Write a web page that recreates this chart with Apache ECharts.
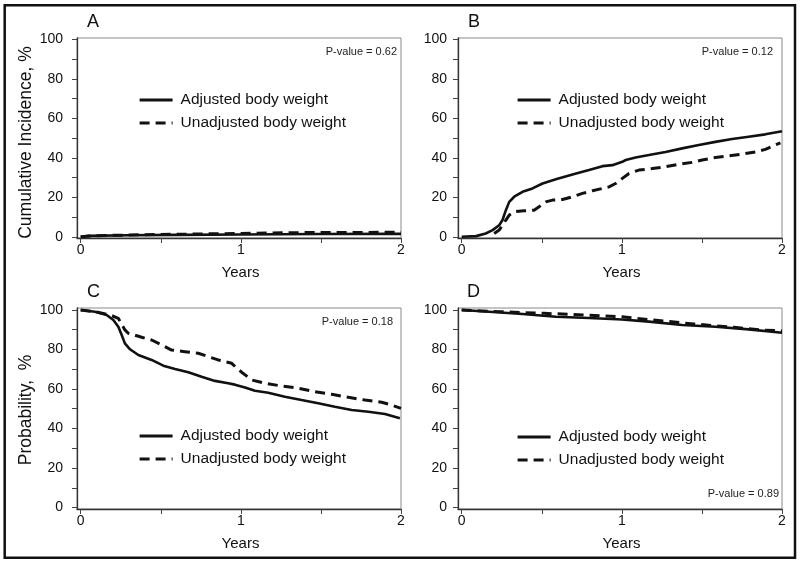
<!DOCTYPE html>
<html>
<head>
<meta charset="utf-8">
<style>
html,body{margin:0;padding:0;background:#fff;}
#chart{width:800px;height:564px;}
</style>
<script src="https://cdn.jsdelivr.net/npm/echarts@6/dist/echarts.min.js"></script>
</head>
<body>
<div id="chart"></div>
<script>
// ---- data ----
const seriesNames = ['Adjusted body weight', 'Unadjusted body weight'];
const panelLetters = ['A', 'B', 'C', 'D'];
const pValues = ['P-value = 0.62', 'P-value = 0.12', 'P-value = 0.18', 'P-value = 0.89'];
const yAxisNames = ['Cumulative Incidence, %', '', 'Probability,  %', ''];
const xAxisName = 'Years';
const xTickValues = [0, 0.5, 1, 1.5, 2];
const xLabelValues = [0, 1, 2];
const yTickValues = [0, 10, 20, 30, 40, 50, 60, 70, 80, 90, 100];
const yLabelValues = [0, 20, 40, 60, 80, 100];

// Panel A: cumulative incidence
const aAdjusted = [[0,0],[0.05,0.5],[0.3,0.8],[0.6,1.0],[1.0,1.2],[1.5,1.4],[2,1.5]];
const aUnadjusted = [[0,0],[0.1,0.6],[0.3,0.9],[0.5,1.2],[1.0,1.7],[1.3,2.1],[2,2.3]];

// Panel B: cumulative incidence
const bAdjusted = [[0,0],[0.09,0.35],[0.15,1.7],[0.193,3.4],[0.234,5.9],[0.255,8.5],[0.276,13.5],[0.297,17.7],[0.328,20.3],[0.38,22.8],[0.442,24.5],[0.505,27],[0.588,29.1],[0.692,31.6],[0.795,33.8],[0.879,35.8],[0.941,36.3],[1.003,38],[1.024,38.9],[1.086,40.2],[1.169,41.4],[1.273,43],[1.377,44.8],[1.481,46.5],[1.584,48.1],[1.688,49.5],[1.792,50.7],[1.896,51.9],[2.0,53.5]];
const bUnadjusted = [[0.203,1.7],[0.234,3.4],[0.276,8.5],[0.297,11],[0.328,12.7],[0.39,13.2],[0.452,13.5],[0.483,15.2],[0.525,17.7],[0.567,18.6],[0.629,18.9],[0.692,20.3],[0.754,22],[0.816,23.3],[0.879,24.5],[0.92,25.3],[0.961,27],[1.003,29.6],[1.045,32.1],[1.107,33.8],[1.19,34.6],[1.273,35.5],[1.356,36.7],[1.439,37.7],[1.502,38.9],[1.584,40.2],[1.667,41],[1.751,41.9],[1.834,43],[1.896,44.3],[1.958,46.5],[1.99,47.6]];

// Panel C: probability
const cAdjusted = [[0,100],[0.089,99.1],[0.162,97.5],[0.204,94.9],[0.235,91.5],[0.256,87.3],[0.276,83.1],[0.308,80.1],[0.36,77.2],[0.443,74.7],[0.516,71.8],[0.589,70.1],[0.672,68.5],[0.755,66.2],[0.838,64.1],[0.921,62.9],[0.963,62.2],[1.026,60.8],[1.088,59.1],[1.171,58.1],[1.275,56.1],[1.379,54.4],[1.483,52.8],[1.587,51],[1.692,49.4],[1.796,48.5],[1.9,47.3],[1.993,45.2]];
const cUnadjusted = [[0,100],[0.1,99],[0.183,97.5],[0.235,95.8],[0.276,89.9],[0.297,88.2],[0.381,86.2],[0.443,84.8],[0.506,82.3],[0.568,79.7],[0.651,78.9],[0.734,78.1],[0.797,76.4],[0.859,74.7],[0.943,73],[0.975,70.5],[1.005,68.5],[1.067,64.6],[1.15,62.9],[1.255,61.5],[1.359,60.4],[1.463,58.6],[1.567,57.3],[1.671,55.8],[1.775,54.4],[1.879,53.3],[1.941,51.9],[2.0,50.2]];

// Panel D: probability
const dAdjusted = [[0,100],[0.172,99.1],[0.38,98],[0.588,96.6],[0.795,95.9],[1.0,95.2],[1.169,94.1],[1.377,92.4],[1.584,91.5],[1.792,90.2],[2.0,88.5]];
const dUnadjusted = [[0,100],[0.245,99.1],[0.515,98.3],[0.764,97.5],[1.0,96.6],[1.16,95.2],[1.45,92.9],[1.7,91.2],[1.86,89.9],[2.0,89.4]];

const panelData = [[aAdjusted, aUnadjusted],[bAdjusted, bUnadjusted],[cAdjusted, cUnadjusted],[dAdjusted, dUnadjusted]];

// ---- layout / styles ----
const FONT = 'Liberation Sans, Arial, Helvetica, sans-serif';
const grids = [
  {left: 77, top: 38, width: 324, height: 200},
  {left: 458, top: 38, width: 324, height: 200},
  {left: 77, top: 308, width: 324, height: 201},
  {left: 458, top: 308, width: 324, height: 201}
];
const yRanges = [[-0.6, 100.7], [-0.6, 100.7], [-0.75, 101], [-0.75, 101]];
const labelMargins = [14, 11, 14, 11];
const yNamePads = [[0, 9, 0, 0], [0, 0, 0, 0], [0, 3, 0, 0], [0, 0, 0, 0]];
const letterPos = [{left: 87, top: 13}, {left: 468, top: 13}, {left: 87, top: 283}, {left: 467, top: 283}];
const pPos = [{right: 403, top: 46}, {right: 27, top: 46}, {right: 407, top: 316}, {right: 21, top: 488}];
const legendPos = [{left: 138, top: 92}, {left: 516, top: 92}, {left: 138, top: 428}, {left: 516, top: 429}];

const chart = echarts.init(document.getElementById('chart'), null, {renderer: 'canvas'});

const option = {
  backgroundColor: '#fff',
  animation: false,
  title: [],
  legend: [],
  grid: [],
  xAxis: [],
  yAxis: [],
  series: [],
  graphic: [{
    type: 'rect',
    shape: {x: 4.7, y: 5.3, width: 790.3, height: 552.4},
    style: {fill: 'none', stroke: '#111', lineWidth: 2.5},
    silent: true, z: 100
  }]
};

for (let i = 0; i < 4; i++) {
  option.grid.push(Object.assign({show: true, borderColor: '#8a8a8a', borderWidth: 1, backgroundColor: 'transparent'}, grids[i]));
  option.xAxis.push({
    type: 'value', gridIndex: i, min: -0.023, max: 2,
    name: xAxisName, nameLocation: 'middle', nameGap: 27,
    nameTextStyle: {fontFamily: FONT, fontSize: 15, color: '#111', padding: [0, 0, 0, 3]},
    axisLine: {show: true, onZero: false, lineStyle: {color: '#333', width: 1.3}},
    axisTick: {show: true, inside: false, length: 5, customValues: xTickValues, lineStyle: {color: '#444', width: 1}},
    axisLabel: {customValues: xLabelValues, margin: 5, fontFamily: FONT, fontSize: 14, color: '#111'},
    splitLine: {show: false}
  });
  option.yAxis.push({
    type: 'value', gridIndex: i, min: yRanges[i][0], max: yRanges[i][1],
    name: yAxisNames[i], nameLocation: 'middle', nameGap: 42, nameMoveOverlap: false,
    nameTextStyle: {fontFamily: FONT, fontSize: 17.5, color: '#111', padding: yNamePads[i]},
    axisLine: {show: true, onZero: false, lineStyle: {color: '#333', width: 1.3}},
    axisTick: {show: true, inside: false, length: 5, customValues: yTickValues, lineStyle: {color: '#444', width: 1}},
    axisLabel: {customValues: yLabelValues, margin: labelMargins[i], fontFamily: FONT, fontSize: 14, color: '#111'},
    splitLine: {show: false}
  });
  option.series.push({
    type: 'line', name: seriesNames[0], xAxisIndex: i, yAxisIndex: i,
    data: panelData[i][0], symbol: 'none', showSymbol: false,
    lineStyle: {color: '#111', width: 2.6, type: 'solid'}, itemStyle: {color: '#111'},
    z: 3
  });
  option.series.push({
    type: 'line', name: seriesNames[1], xAxisIndex: i, yAxisIndex: i,
    data: panelData[i][1], symbol: 'none', showSymbol: false,
    lineStyle: {color: '#111', width: 3, type: [10, 6]}, itemStyle: {color: '#111'},
    z: 2
  });
  option.title.push(Object.assign({
    text: panelLetters[i], padding: 0,
    textStyle: {fontFamily: FONT, fontSize: 18, fontWeight: 'normal', color: '#111'}
  }, letterPos[i]));
  option.title.push(Object.assign({
    text: pValues[i], padding: 0,
    textStyle: {fontFamily: FONT, fontSize: 11, fontWeight: 'normal', color: '#222'}
  }, pPos[i]));
  option.legend.push(Object.assign({
    orient: 'vertical', padding: 0, itemGap: 7, itemWidth: 33, itemHeight: 16,
    selectedMode: false,
    data: seriesNames,
    itemStyle: {opacity: 0},
    lineStyle: {width: 3.2},
    textStyle: {fontFamily: FONT, fontSize: 15.5, color: '#111', lineHeight: 16, padding: [0, 0, 0, 3]}
  }, legendPos[i]));
}

chart.setOption(option);
</script>
</body>
</html>
